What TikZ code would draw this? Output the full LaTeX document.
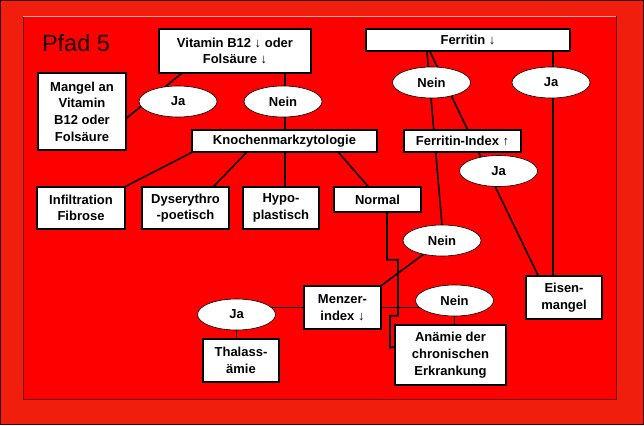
\documentclass[tikz,border=0pt]{standalone}
\usepackage{fontspec}
\setmainfont{Liberation Sans}
\usetikzlibrary{shapes.geometric,calc}
\pgfdeclarelayer{bg}
\pgfdeclarelayer{lines}
\pgfsetlayers{bg,lines,main}
\definecolor{outerred}{RGB}{240,30,12}
\definecolor{innerred}{RGB}{255,0,0}
\definecolor{edgered}{RGB}{110,0,0}
\definecolor{lightedge}{RGB}{255,170,160}
\tikzset{
  box/.style={draw=black, line width=1.4pt, fill=white, align=center, inner sep=0pt,
    font=\bfseries\fontsize{13}{16.7}\selectfont},
  oval/.style={ellipse, draw=black, line width=0.6pt, fill=white, inner sep=0pt,
    minimum width=78pt, minimum height=31pt, font=\bfseries\fontsize{13}{16.7}\selectfont},
  conn/.style={draw=black, line width=1.6pt},
  title/.style={font=\fontsize{23.5}{28}\selectfont, text=black!90!red, inner sep=0pt}
}
\begin{document}
\begin{tikzpicture}[x=1pt,y=-1pt]
\useasboundingbox (0,0) rectangle (644,425);
\begin{pgfonlayer}{bg}
  \fill[outerred] (0,0) rectangle (644,425);
  \draw[edgered!50!black, line width=1pt] (0.5,0.5) rectangle (643.5,424.5);
  \fill[innerred] (23,16) rectangle (616,399);
  \draw[edgered, line width=0.8pt] (23,16) rectangle (616,399);
  \draw[lightedge, line width=0.8pt] (23,16) -- (616,16);
\end{pgfonlayer}

\node[title] (pfad) at (76,43) {Pfad 5};

\node[box, minimum width=152pt, minimum height=44pt] (vit) at (235,51) {Vitamin B12 ↓ oder\\Folsäure ↓};
\node[box, minimum width=88pt, minimum height=77pt] (mangel) at (82,111.5) {Mangel an\\Vitamin\\B12 oder\\Folsäure};
\node[box, minimum width=185pt, minimum height=22pt] (knochen) at (284.5,141) {Knochenmarkzytologie};
\node[box, minimum width=88pt, minimum height=42pt] (infil) at (81,208) {Infiltration\\Fibrose};
\node[box, minimum width=87pt, minimum height=42pt] (dys) at (185.5,208) {Dyserythro\\-poetisch};
\node[box, minimum width=76pt, minimum height=42pt] (hypo) at (281,208) {Hypo-\\plastisch};
\node[box, minimum width=87pt, minimum height=25pt] (normal) at (377.5,199.5) {Normal};
\node[box, minimum width=204pt, minimum height=22pt] (ferritin) at (468,40) {Ferritin ↓};
\node[box, minimum width=117pt, minimum height=22pt] (findex) at (462.5,141) {Ferritin-Index ↑};
\node[box, minimum width=77pt, minimum height=43pt] (menzer) at (342.5,307.5) {Menzer-\\index ↓};
\node[box, minimum width=76pt, minimum height=43pt] (thal) at (241,360.5) {Thalass-\\ämie};
\node[box, minimum width=111pt, minimum height=60pt] (anaemie) at (450.5,355) {Anämie der\\chronischen\\Erkrankung};
\node[box, minimum width=76pt, minimum height=43pt] (eisen) at (564,297.5) {Eisen-\\mangel};

\node[oval] (ja1) at (178,101.5) {Ja};
\node[oval] (nein1) at (283,101.5) {Nein};
\node[oval] (nein2) at (431.5,82.5) {Nein};
\node[oval] (ja2) at (551,82.5) {Ja};
\node[oval] (ja3) at (498.5,171) {Ja};
\node[oval] (nein3) at (442,240.5) {Nein};
\node[oval] (ja4) at (236.5,314.5) {Ja};
\node[oval] (nein4) at (454.5,300.5) {Nein};

\begin{pgfonlayer}{lines}
  \draw[conn] ([xshift=23pt]vit.south west) -- ([yshift=-6.5pt]mangel.east);
  \draw[conn] ([xshift=50pt]vit.south) -- ([xshift=50pt]vit.south |- knochen.north);
  \draw[conn] (knochen.south west) -- (infil.north east);
  \draw[conn] ([xshift=55pt]knochen.south west) -- ([xshift=-16pt]dys.north east);
  \draw[conn] ([xshift=0.5pt]knochen.south) -- ([xshift=0.5pt]knochen.south |- hypo.north);
  \draw[conn] ([xshift=-39pt]knochen.south east) -- ([xshift=-9.5pt]normal.north);
  \draw[conn] ([xshift=-41pt]ferritin.south) -- (nein3.north);
  \draw[conn] ([xshift=-38pt]ferritin.south) -- ([xshift=-26pt]eisen.north);
  \draw[conn] ([xshift=85pt]ferritin.south) -- ([xshift=85pt]ferritin.south |- eisen.north);
  \draw[conn] (nein3.center) -- (menzer.north east);
  \draw[conn] (menzer.west) -- (menzer.west -| ja4.center);
  \draw[conn] (menzer.east) -- (menzer.east -| nein4.center);
  \draw[conn] (ja4.center) -- (ja4.center |- thal.north);
  \draw[conn] (nein4.center) -- (nein4.center |- anaemie.north);
  \draw[conn] ([xshift=9.5pt]normal.south) -- ++(0,47) -- ++(11,0) -- ++(0,56) -- ++(-8,0) -- ++(0,32) -- ([yshift=8pt]anaemie.west);
\end{pgfonlayer}
\end{tikzpicture}
\end{document}
